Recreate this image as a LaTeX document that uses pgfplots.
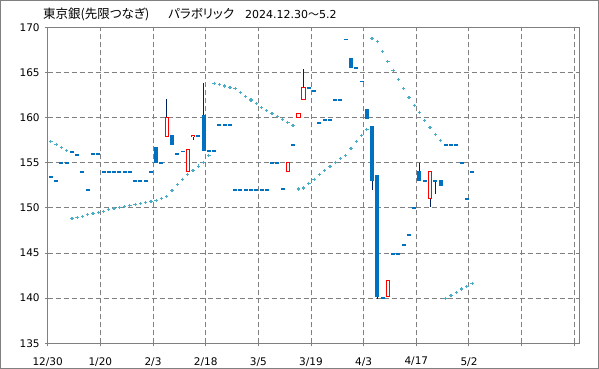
\documentclass[border=0pt]{standalone}
\usepackage{pgfplots}
\usepackage{pgfplotstable}
\pgfplotsset{compat=1.18}
\usepackage{fontspec}
\setmainfont{DejaVu Sans}
\newfontfamily\jp[RawFeature=+palt]{Noto Sans CJK JP}
\definecolor{cblue}{RGB}{0,112,192}
\definecolor{cred}{RGB}{255,0,0}
\definecolor{cwick}{RGB}{0,32,96}
\definecolor{csar}{RGB}{75,172,198}
\definecolor{cgrid}{RGB}{128,128,128}

% day index, open, high, low, close  (down or unchanged days)
\pgfplotstableread{
d o h l c
0 153.4 153.4 153.4 153.4
1 153.0 153.0 153.0 153.0
2 155.0 155.0 155.0 155.0
3 155.0 155.0 155.0 155.0
4 156.2 156.2 156.2 156.2
5 155.9 155.9 155.9 155.9
6 154.0 154.0 154.0 154.0
7 152.0 152.0 152.0 152.0
8 156.0 156.0 156.0 156.0
9 156.0 156.0 156.0 156.0
10 154.0 154.0 154.0 154.0
11 154.0 154.0 154.0 154.0
12 154.0 154.0 154.0 154.0
13 154.0 154.0 154.0 154.0
14 154.0 154.0 154.0 154.0
15 154.0 154.0 154.0 154.0
16 153.0 153.0 153.0 153.0
17 153.0 153.0 153.0 153.0
18 153.0 153.0 153.0 153.0
19 154.0 154.0 154.0 154.0
20 156.75 156.75 155.0 155.0
21 155.0 155.0 155.0 155.0
23 158.05 158.05 157.0 157.0
24 156.0 156.0 156.0 156.0
25 156.25 156.25 156.25 156.25
28 158.0 158.0 158.0 158.0
29 160.3 163.8 156.35 156.35
30 156.35 156.35 156.35 156.35
31 156.35 156.35 156.35 156.35
32 159.2 159.2 159.2 159.2
33 159.2 159.2 159.2 159.2
34 159.2 159.2 159.2 159.2
35 152.0 152.0 152.0 152.0
36 152.0 152.0 152.0 152.0
37 152.0 152.0 152.0 152.0
38 152.0 152.0 152.0 152.0
39 152.0 152.0 152.0 152.0
40 152.0 152.0 152.0 152.0
41 152.0 152.0 152.0 152.0
42 155.0 155.0 155.0 155.0
43 155.0 155.0 155.0 155.0
44 152.1 152.1 152.1 152.1
46 157.0 157.0 157.0 157.0
49 163.3 163.3 163.3 163.3
50 163.0 163.0 163.0 163.0
51 159.4 159.4 159.4 159.4
52 159.75 159.75 159.75 159.75
53 159.75 159.75 159.75 159.75
54 162.0 162.0 162.0 162.0
55 162.0 162.0 162.0 162.0
56 168.75 168.75 168.55 168.55
57 166.55 166.55 165.5 165.5
58 165.5 165.5 165.5 165.5
59 164.0 164.0 164.0 164.0
60 160.95 160.95 159.85 159.85
61 159.1 159.1 152.0 153.0
62 153.65 153.65 139.9 140.15
63 140.05 140.05 140.05 140.05
65 144.9 144.9 144.9 144.9
66 144.9 144.9 144.9 144.9
67 145.9 145.9 145.9 145.9
68 147.0 147.0 147.0 147.0
69 150.0 150.0 150.0 150.0
70 154.1 155.0 153.0 153.0
71 153.0 153.0 153.0 153.0
73 153.0 153.0 151.5 153.0
74 153.1 153.1 152.45 152.45
75 157.0 157.0 157.0 157.0
76 157.0 157.0 157.0 157.0
77 157.0 157.0 157.0 157.0
78 155.0 155.0 155.0 155.0
79 151.0 151.0 151.0 151.0
80 154.0 154.0 154.0 154.0
}\downtab

% up days
\pgfplotstableread{
d o h l c
22 157.9 162.05 157.9 160.0
26 154.05 156.5 154.05 156.5
27 157.85 158.05 157.5 158.05
45 154.05 155.0 154.05 155.0
47 160.05 160.45 160.05 160.45
48 162.05 165.35 162.05 163.35
64 140.15 142.0 140.15 142.0
72 151.05 154.05 150.05 154.05
}\uptab

% parabolic SAR
\pgfplotstableread{
d s
0 157.37
1 157.04
2 156.71
3 156.33
4 148.8
5 148.91
6 149.07
7 149.25
8 149.4
9 149.5
10 149.62
11 149.8
12 149.95
13 150.06
14 150.17
15 150.28
16 150.4
17 150.5
18 150.62
19 150.73
20 150.84
21 151.02
22 151.28
23 151.9
24 152.57
25 153.15
26 153.7
27 154.15
28 154.62
29 155.05
30 155.82
31 163.8
32 163.69
33 163.5
34 163.35
35 163.2
36 162.8
37 162.36
38 161.95
39 161.54
40 161.12
41 160.78
42 160.47
43 160.14
44 159.81
45 159.48
46 159.15
47 152.08
48 152.19
49 152.72
50 153.17
51 153.72
52 154.12
53 154.6
54 155.05
55 155.49
56 155.82
57 156.6
58 157.37
59 158.04
60 158.7
61 168.78
62 168.45
63 167.34
64 166.23
65 165.2
66 164.24
67 163.24
68 162.25
69 161.36
70 160.59
71 159.7
72 158.92
73 158.15
74 157.48
75 139.98
76 140.32
77 140.65
78 141.02
79 141.32
80 141.65
}\sartab

\begin{document}
\begin{tikzpicture}[x=1pt,y=1pt]
\useasboundingbox (0,0) rectangle (599,369);
\fill[white] (0,0) rectangle (599,369);
\draw[cgrid, line width=1pt] (0.5,0.5) rectangle (598.5,368.5);
\node[anchor=base west, inner sep=0] at (43,350) {\jp\fontsize{12.5}{14}\selectfont 東京銀(先限つなぎ)};
\node[anchor=base west, inner sep=0] at (168,350) {\jp\fontsize{12.5}{14}\selectfont パラボリック};
\node[anchor=base west, inner sep=0] at (245,350) {\fontsize{11}{13}\selectfont 2024.12.30{\jp ～}5.2};
\begin{axis}[
  at={(47.7pt,25.7pt)}, anchor=south west,
  scale only axis, width=531.6pt, height=316pt,
  xmin=-0.6, xmax=100.35, ymin=135, ymax=170,
  xtick={-0.6,9.4,19.4,29.4,39.4,49.4,59.4,69.4,79.4,89.4,99.4},
  xticklabels={12/30,1/20,2/3,2/18,3/5,3/19,4/3,4/17,5/2,,},
  ytick={135,140,145,150,155,160,165,170},
  /pgf/number format/assume math mode=true,
  tick pos=left, tick align=outside, major tick length=3pt,
  tick style={cgrid, line width=1pt},
  axis line style={cgrid, line width=1pt},
  grid=major,
  major grid style={cgrid, line width=1pt, dash pattern=on 5pt off 3pt},
  ticklabel style={font=\fontsize{10.5}{12}\selectfont, text=black},
  xticklabel style={yshift=-7.5pt},
  yticklabel style={xshift=-1.5pt},
  axis background/.style={fill=white},
]
% wicks of down / unchanged days
\addplot[draw=none, mark=none, forget plot,
  error bars/.cd, y dir=both, y explicit, error mark=none,
  error bar style={line width=1pt, color=cwick}]
  table[x=d, y expr={(\thisrow{h}+\thisrow{l})/2}, y error expr={(\thisrow{h}-\thisrow{l})/2}] {\downtab};
% wicks of up days: upper part (close to high) and lower part (low to open)
\addplot[draw=none, mark=none, forget plot,
  error bars/.cd, y dir=plus, y explicit, error mark=none,
  error bar style={line width=1pt, color=cwick}]
  table[x=d, y=c, y error expr={\thisrow{h}-\thisrow{c}}] {\uptab};
\addplot[draw=none, mark=none, forget plot,
  error bars/.cd, y dir=minus, y explicit, error mark=none,
  error bar style={line width=1pt, color=cwick}]
  table[x=d, y=o, y error expr={\thisrow{o}-\thisrow{l}}] {\uptab};
% blue bodies
\addplot[draw=none, mark=none, forget plot,
  error bars/.cd, y dir=both, y explicit, error mark=none,
  error bar style={line width=4pt, color=cblue}]
  table[x=d, y expr={(\thisrow{o}+\thisrow{c})/2}, y error expr={max(abs(\thisrow{o}-\thisrow{c})/2,0.095)}] {\downtab};
% red hollow bodies
\addplot[draw=none, mark=none, forget plot,
  error bars/.cd, y dir=both, y explicit, error mark=none,
  error bar style={line width=4.4pt, color=cred}]
  table[x=d, y expr={(\thisrow{o}+\thisrow{c})/2}, y error expr={(\thisrow{c}-\thisrow{o})/2+0.055}] {\uptab};
\addplot[draw=none, mark=none, forget plot,
  error bars/.cd, y dir=both, y explicit, error mark=none,
  error bar style={line width=2.4pt, color=white}]
  table[x=d, y expr={(\thisrow{o}+\thisrow{c})/2}, y error expr={max((\thisrow{c}-\thisrow{o})/2-0.055,0)}] {\uptab};
% SAR
\addplot[only marks, mark=+, mark size=1.7pt, color=csar, mark options={line width=1.2pt}]
  table[x=d, y=s] {\sartab};
\end{axis}
\end{tikzpicture}
\end{document}
